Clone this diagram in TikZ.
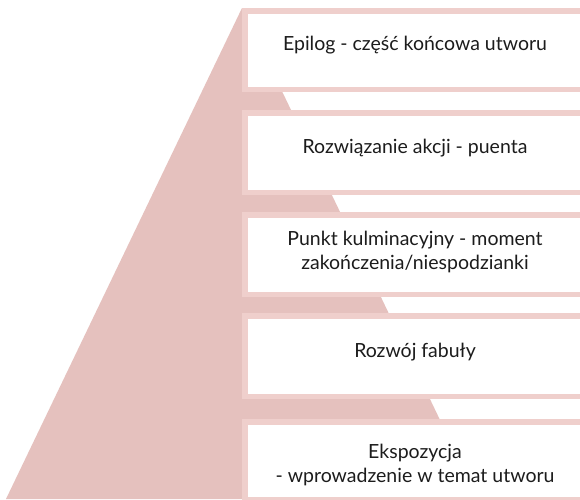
\documentclass[tikz,border=0pt]{standalone}
\usepackage{fontspec}
\setmainfont{Lato}
\definecolor{pyramidfill}{HTML}{E5C1BE}
\definecolor{framepink}{HTML}{EFCFCC}
\definecolor{inkdark}{HTML}{1C1C1C}
\begin{document}
\begin{tikzpicture}[x=1pt,y=-1pt,
  stagebox/.style={draw=framepink, line width=5.5pt, fill=white,
    minimum width=342.5pt, inner sep=0pt, outer sep=0pt, anchor=north west},
  caption/.style={anchor=base, align=center, text=inkdark,
    font=\fontsize{19.5}{23.5}\selectfont, inner sep=0pt}]
  \useasboundingbox (0,0) rectangle (580,499);
  \clip (0,0) rectangle (580,499);
  \fill[white] (0,0) rectangle (580,499);
  % the pyramid behind the stages
  \coordinate (apex) at (242,8);
  \coordinate (baseL) at (6,499);
  \coordinate (baseR) at (478,499);
  \fill[pyramidfill] (apex) -- (baseR) -- (baseL) -- cycle;
  % framed stages, top to bottom
  \node[stagebox, minimum height=78.5pt] (s1) at (244.75,10.75) {};
  \node[stagebox, minimum height=79.5pt] (s2) at (244.75,112.75) {};
  \node[stagebox, minimum height=79.5pt] (s3) at (244.75,214.75) {};
  \node[stagebox, minimum height=80.5pt] (s4) at (244.75,315.75) {};
  \node[stagebox, minimum height=77.5pt] (s5) at (244.75,421.75) {};
  % captions (base anchor sits on the last line)
  \node[caption] (c1) at (415,50) {Epilog - część końcowa utworu};
  \node[caption] (c2) at (415,153) {Rozwiązanie akcji - puenta};
  \node[caption] (c3) at (415,269) {Punkt kulminacyjny - moment\\zakończenia/niespodzianki};
  \node[caption] (c4) at (415,357) {Rozwój fabuły};
  \node[caption] (c5) at (415,482) {Ekspozycja\\- wprowadzenie w temat utworu};
\end{tikzpicture}
\end{document}
